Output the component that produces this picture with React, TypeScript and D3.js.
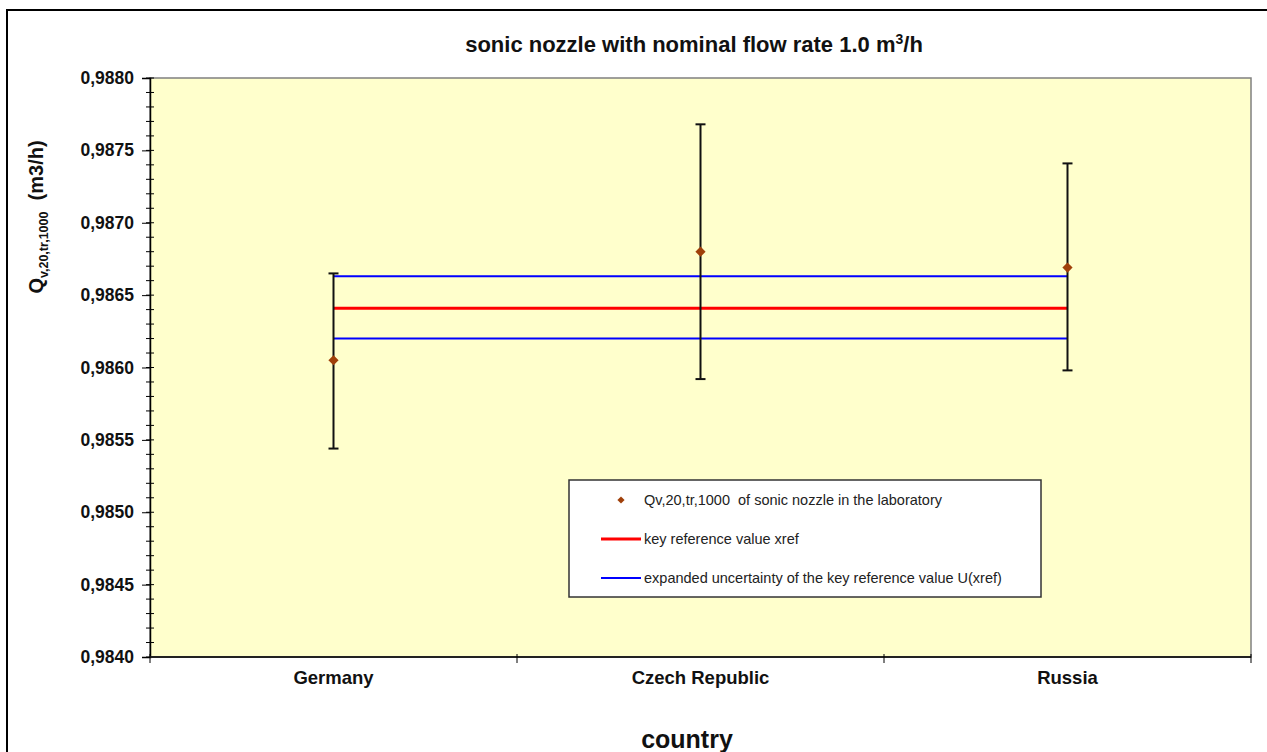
import React, { useEffect, useRef } from "react";
import * as d3 from "d3";

const countries = ["Germany", "Czech Republic", "Russia"];
const values = [0.98605, 0.9868, 0.98669];
const upper = [0.98665, 0.98768, 0.98741];
const lower = [0.98544, 0.98592, 0.98598];
const xref = 0.98641;
const uHigh = 0.98663;
const uLow = 0.9862;
const yTicks = [0.984, 0.9845, 0.985, 0.9855, 0.986, 0.9865, 0.987, 0.9875, 0.988];

const W = 1267;
const H = 752;
const plot = { left: 150, right: 1251, top: 78, bottom: 657 };
const font = "Liberation Sans, Arial, sans-serif";

export default function App() {
  const ref = useRef<SVGSVGElement>(null);

  useEffect(() => {
    const svg = d3.select(ref.current);
    svg.selectAll("*").remove();

    const x = d3.scaleBand().domain(countries).range([plot.left, plot.right]);
    const cx = (c: string) => (x(c) as number) + x.bandwidth() / 2;
    const y = d3.scaleLinear().domain([0.984, 0.988]).range([plot.bottom, plot.top]);

    // outer frame
    svg
      .append("rect")
      .attr("x", 7)
      .attr("y", 10)
      .attr("width", W + 20)
      .attr("height", H + 20)
      .attr("fill", "white")
      .attr("stroke", "black")
      .attr("stroke-width", 2);

    // plot area
    svg
      .append("rect")
      .attr("x", plot.left)
      .attr("y", plot.top)
      .attr("width", plot.right - plot.left)
      .attr("height", plot.bottom - plot.top)
      .attr("fill", "#ffffcc")
      .attr("stroke", "#808080")
      .attr("stroke-width", 1.5);

    // title
    const title = svg
      .append("text")
      .attr("x", 694)
      .attr("y", 52)
      .attr("text-anchor", "middle")
      .attr("font-family", font)
      .attr("font-weight", "bold")
      .attr("font-size", 22)
      .attr("fill", "#111")
      .text("sonic nozzle with nominal flow rate 1.0 m");
    title.append("tspan").attr("font-size", 14).attr("dy", -8).text("3");
    title.append("tspan").attr("dy", 8).text("/h");

    // y axis: minor ticks
    const minor = d3.range(0, 41).map((i) => 0.984 + i * 0.0001);
    svg
      .append("g")
      .selectAll("line")
      .data(minor)
      .join("line")
      .attr("x1", plot.left - 4)
      .attr("x2", plot.left + 4)
      .attr("y1", (d) => y(d))
      .attr("y2", (d) => y(d))
      .attr("stroke", "black")
      .attr("stroke-width", 1);

    const yAxis = svg
      .append("g")
      .attr("transform", `translate(${plot.left},0)`)
      .call(
        d3
          .axisLeft(y)
          .tickValues(yTicks)
          .tickSize(8)
          .tickPadding(8)
          .tickFormat((d) => d3.format(".4f")(d as number).replace(".", ","))
      );
    yAxis.select(".domain").attr("stroke", "black").attr("stroke-width", 1.5);
    yAxis.selectAll(".tick line").attr("stroke", "black");
    yAxis
      .selectAll(".tick text")
      .attr("font-family", font)
      .attr("font-weight", "bold")
      .attr("font-size", 17.5)
      .attr("fill", "#111");

    // x axis
    svg
      .append("line")
      .attr("x1", plot.left)
      .attr("x2", plot.right)
      .attr("y1", plot.bottom)
      .attr("y2", plot.bottom)
      .attr("stroke", "#222")
      .attr("stroke-width", 2);
    const bounds = countries.map((c) => x(c) as number).concat([plot.right]);
    svg
      .append("g")
      .selectAll("line")
      .data(bounds)
      .join("line")
      .attr("x1", (d) => d)
      .attr("x2", (d) => d)
      .attr("y1", plot.bottom - 3)
      .attr("y2", plot.bottom + 6)
      .attr("stroke", "black");
    svg
      .append("g")
      .selectAll("text")
      .data(countries)
      .join("text")
      .attr("x", (d) => cx(d))
      .attr("y", 684)
      .attr("text-anchor", "middle")
      .attr("font-family", font)
      .attr("font-weight", "bold")
      .attr("font-size", 18.5)
      .attr("fill", "#111")
      .text((d) => d);

    // axis titles
    svg
      .append("text")
      .attr("x", 687)
      .attr("y", 748)
      .attr("text-anchor", "middle")
      .attr("font-family", font)
      .attr("font-weight", "bold")
      .attr("font-size", 25)
      .attr("fill", "#111")
      .text("country");
    const yl = svg
      .append("text")
      .attr("transform", "translate(43,217) rotate(-90)")
      .attr("text-anchor", "middle")
      .attr("font-family", font)
      .attr("font-weight", "bold")
      .attr("font-size", 20)
      .attr("fill", "#111")
      .text("Q");
    yl.append("tspan").attr("font-size", 12.5).attr("dy", 5).text("v,20,tr,1000");
    yl.append("tspan").attr("dy", -5).style("white-space", "pre").text("  (m3/h)");

    // reference lines
    const x0 = cx(countries[0]);
    const x1 = cx(countries[countries.length - 1]);
    [
      { v: uHigh, c: "#0000ff", w: 2 },
      { v: uLow, c: "#0000ff", w: 2 },
      { v: xref, c: "#ff0000", w: 3 },
    ].forEach((l) => {
      svg
        .append("line")
        .attr("x1", x0)
        .attr("x2", x1)
        .attr("y1", y(l.v))
        .attr("y2", y(l.v))
        .attr("stroke", l.c)
        .attr("stroke-width", l.w);
    });

    // error bars
    const eb = svg.append("g");
    countries.forEach((c, i) => {
      const px = cx(c);
      eb.append("line")
        .attr("x1", px)
        .attr("x2", px)
        .attr("y1", y(upper[i]))
        .attr("y2", y(lower[i]))
        .attr("stroke", "#111")
        .attr("stroke-width", 2);
      [upper[i], lower[i]].forEach((v) => {
        eb.append("line")
          .attr("x1", px - 5)
          .attr("x2", px + 5)
          .attr("y1", y(v))
          .attr("y2", y(v))
          .attr("stroke", "#111")
          .attr("stroke-width", 2);
      });
    });

    // points (square rotated 45deg = diamond)
    const diamond = d3.symbol(d3.symbolSquare, 52);
    svg
      .append("g")
      .selectAll("path")
      .data(values)
      .join("path")
      .attr("d", diamond)
      .attr("transform", (d, i) => `translate(${cx(countries[i])},${y(d)}) rotate(45)`)
      .attr("fill", "#a0400a");

    // legend
    const lg = svg.append("g").attr("transform", "translate(569,480)");
    lg.append("rect")
      .attr("width", 472)
      .attr("height", 117)
      .attr("fill", "white")
      .attr("stroke", "#333")
      .attr("stroke-width", 1.5);
    lg.append("path")
      .attr("d", d3.symbol(d3.symbolSquare, 26))
      .attr("transform", "translate(52,20) rotate(45)")
      .attr("fill", "#a0400a");
    lg.append("line").attr("x1", 32).attr("x2", 72).attr("y1", 59).attr("y2", 59).attr("stroke", "#ff0000").attr("stroke-width", 3);
    lg.append("line").attr("x1", 32).attr("x2", 72).attr("y1", 98).attr("y2", 98).attr("stroke", "#0000ff").attr("stroke-width", 2);
    const labels = [
      "Qv,20,tr,1000  of sonic nozzle in the laboratory",
      "key reference value xref",
      "expanded uncertainty of the key reference value U(xref)",
    ];
    lg.selectAll("text.l")
      .data(labels)
      .join("text")
      .attr("class", "l")
      .attr("x", 75)
      .attr("y", (d, i) => 25 + i * 39)
      .attr("font-family", font)
      .attr("font-size", 14.5)
      .attr("fill", "#222")
      .style("white-space", "pre")
      .text((d) => d);
  }, []);

  return (
    <svg
      ref={ref}
      width={W}
      height={H}
      style={{ position: "absolute", left: 0, top: 0, background: "white" }}
    />
  );
}
